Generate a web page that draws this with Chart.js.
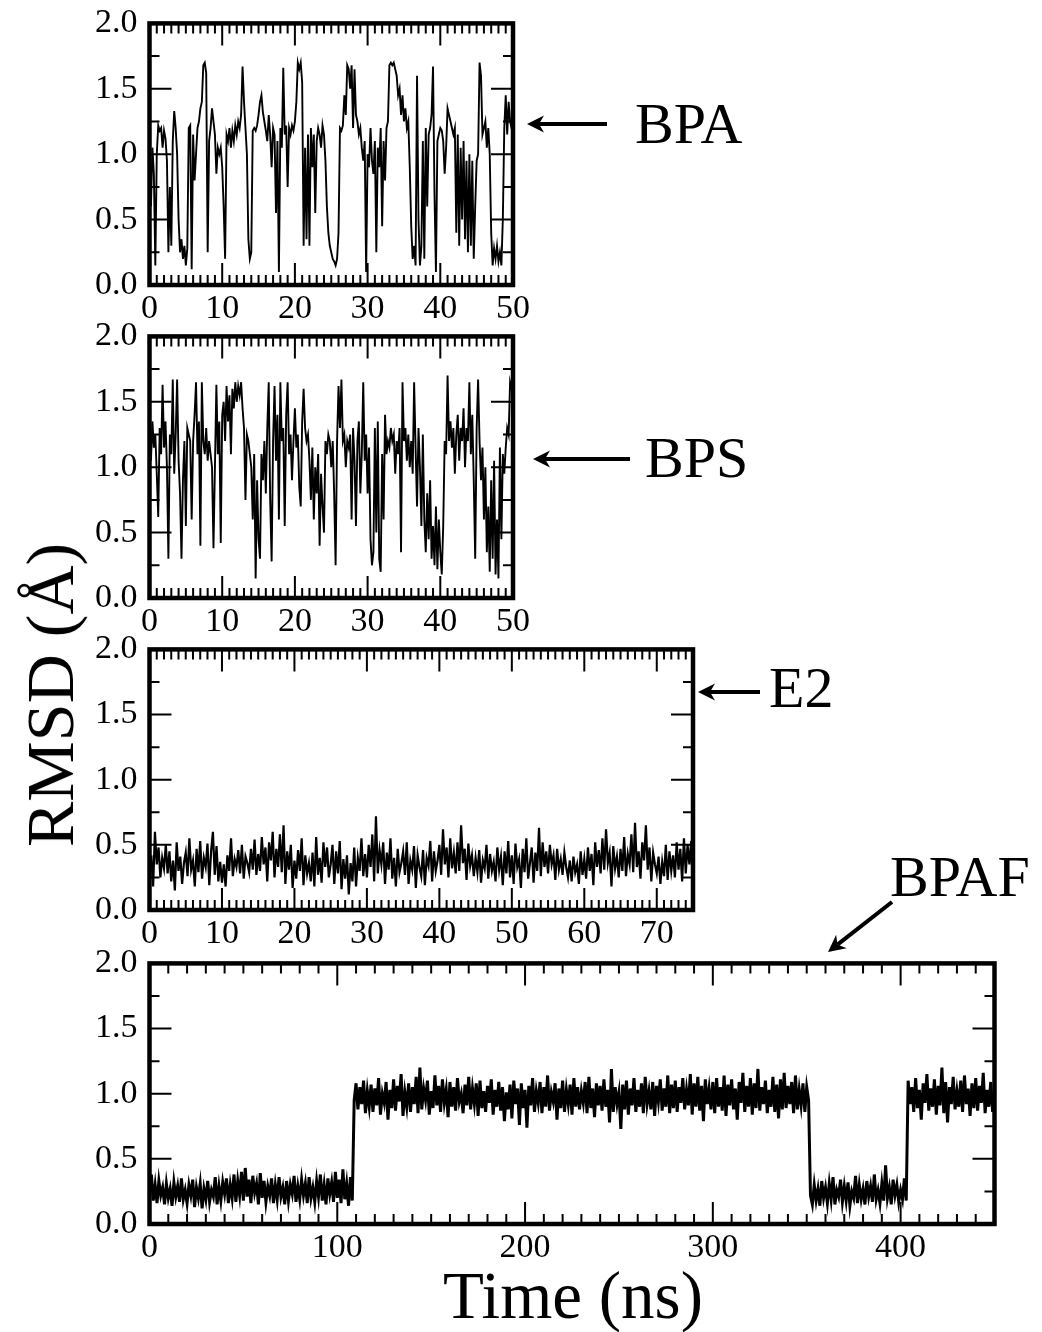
<!DOCTYPE html>
<html>
<head>
<meta charset="utf-8">
<title>RMSD vs time</title>
<script src="https://cdn.jsdelivr.net/npm/chart.js@4.4.0/dist/chart.umd.min.js"></script>
<style>
  html, body { margin: 0; padding: 0; background: #fff; }
  body {
    width: 1042px; height: 1332px; position: relative; overflow: hidden;
    font-family: "Liberation Serif", "DejaVu Serif", serif; color: #000;
  }
  canvas { position: absolute; left: 0; }
  .tag { position: absolute; font-size: 58px; line-height: 1; white-space: nowrap; }
  .axis-title { position: absolute; line-height: 1; white-space: nowrap; transform-origin: 50% 50%; }
  #yTitle { left: 50px; top: 695px; font-size: 68px; transform: translate(-50%, -50%) rotate(-90deg); }
  #xTitle { left: 573px; top: 1295px; font-size: 67px; transform: translate(-50%, -50%); }
  svg { position: absolute; left: 0; top: 0; }
</style>
</head>
<body>

<canvas id="bpaChart"></canvas>
<canvas id="bpsChart"></canvas>
<canvas id="e2Chart"></canvas>
<canvas id="bpafChart"></canvas>

<div class="tag" style="left:635px; top:95px;">BPA</div>
<div class="tag" style="left:645px; top:429px;">BPS</div>
<div class="tag" style="left:769px; top:659px;">E2</div>
<div class="tag" style="left:890px; top:848px;">BPAF</div>

<div class="axis-title" id="yTitle">RMSD (Å)</div>
<div class="axis-title" id="xTitle">Time (ns)</div>

<svg width="1042" height="1332" id="arrows"></svg>

<script>
// ============================================================================
// DATA (RMSD in Angstrom, sampled every *Step ns)
// ============================================================================

const bpaStep = 0.2;
const bpaRmsd = [
    1.00, 0.60, 1.05, 0.85, 0.15,  1.00, 1.22, 1.18, 1.20, 1.05,
    1.18, 1.12, 0.95, 0.25, 0.75,  0.30, 1.10, 1.33, 1.20, 1.00,
    0.50, 0.25, 0.35, 0.20, 0.30,  0.15, 0.28, 1.20, 1.22, 0.12,
    1.15, 0.80, 1.00, 1.20, 1.25,  1.35, 1.40, 1.68, 1.70, 1.62,
    0.25, 1.10, 1.20, 1.35, 1.25,  1.15, 0.85, 1.05, 1.00, 1.05,
    0.90, 0.60, 0.20, 1.15, 1.10,  1.20, 1.05, 1.18, 1.10, 1.22,
    1.15, 1.25, 1.20, 1.30, 1.67,  1.40, 1.20, 1.00, 0.35, 0.20,
    0.25, 1.18, 1.20, 1.18, 1.22,  1.30, 1.40, 1.45, 1.32, 1.25,
    1.18, 1.10, 1.30, 1.15, 0.90,  1.20, 1.15, 0.55, 1.10, 0.10,
    1.20, 1.05, 1.66, 1.15, 1.22,  0.75, 1.20, 1.15, 1.22, 1.18,
    1.25, 1.40, 1.70, 1.65, 1.70,  1.55, 0.30, 1.05, 0.35, 1.15,
    0.30, 1.20, 0.90, 1.15, 0.55,  1.10, 1.20, 1.15, 1.05, 1.22,
    1.15, 0.95, 0.60, 0.40, 0.30,  0.25, 0.20, 0.18, 0.15, 0.20,
    0.40, 1.20, 1.18, 1.22, 1.45,  1.30, 1.68, 1.65, 1.50, 1.68,
    1.20, 1.65, 1.30, 1.25, 1.15,  1.20, 1.05, 0.95, 1.10, 0.10,
    1.00, 0.90, 1.20, 0.95, 0.85,  1.10, 0.25, 1.05, 0.90, 1.20,
    0.45, 1.10, 0.80, 1.20, 1.25,  1.68, 1.70, 1.68, 1.70, 1.65,
    1.60, 1.45, 1.50, 1.30, 1.45,  1.25, 1.35, 1.20, 1.25, 0.90,
    0.45, 0.20, 0.30, 0.15, 1.60,  0.50, 0.15, 0.30, 1.10, 0.20,
    1.20, 0.60, 1.15, 1.20, 1.30,  1.67, 0.70, 0.10, 1.10, 1.15,
    1.20, 1.18, 1.10, 0.85, 1.05,  1.35, 1.30, 1.25, 1.20, 1.15,
    1.20, 0.40, 1.15, 0.30, 1.05,  0.50, 1.10, 0.35, 0.95, 0.25,
    1.00, 0.30, 0.95, 0.20, 0.60,  0.95, 1.00, 1.70, 1.60, 1.15,
    1.20, 1.25, 1.05, 1.20, 1.00,  0.40, 0.15, 0.28, 0.20, 0.30,
    0.18, 0.25, 0.15, 0.50, 1.20,  1.45, 1.15, 1.40, 1.25, 1.20,
    1.45
];

const bpsStep = 0.2;
const bpsRmsd = [
    1.20, 1.05, 1.35, 1.15, 1.25,  0.95, 0.62, 1.30, 1.10, 1.63,
    1.15, 1.35, 1.00, 0.30, 1.25,  1.10, 1.67, 0.95, 1.25, 1.67,
    1.05, 0.80, 0.30, 0.90, 1.20,  0.55, 1.30, 1.25, 1.20, 0.60,
    1.20, 1.40, 1.65, 1.10, 1.35,  0.40, 1.65, 1.20, 1.10, 1.30,
    1.05, 1.20, 1.10, 1.00, 0.38,  1.00, 1.63, 1.10, 1.35, 0.42,
    1.40, 1.50, 1.20, 1.62, 1.35,  1.55, 1.10, 1.60, 1.45, 1.65,
    1.50, 1.62, 1.55, 1.65, 1.45,  1.30, 0.75, 1.25, 1.20, 1.10,
    1.00, 0.60, 1.10, 0.15, 0.90,  0.45, 0.30, 1.10, 0.90, 1.20,
    0.80, 1.30, 1.65, 0.75, 0.28,  1.20, 1.62, 1.05, 1.40, 0.60,
    1.65, 1.20, 1.30, 0.55, 1.40,  1.65, 1.10, 1.25, 0.90, 1.20,
    1.45, 1.15, 1.25, 0.85, 0.70,  1.35, 1.60, 1.30, 1.20, 1.25,
    1.05, 0.75, 1.15, 0.60, 1.00,  0.80, 1.10, 0.40, 0.95, 0.70,
    0.50, 1.20, 1.10, 1.25, 1.20,  1.00, 1.20, 0.80, 0.25, 1.20,
    1.62, 1.30, 1.67, 1.20, 1.25,  1.00, 1.20, 1.15, 1.25, 0.60,
    1.30, 1.05, 0.55, 1.20, 1.35,  0.80, 1.10, 1.65, 1.05, 1.25,
    0.80, 1.15, 0.45, 0.25, 0.35,  1.30, 0.50, 1.35, 0.30, 0.20,
    1.10, 0.60, 1.40, 1.10, 1.20,  1.15, 1.30, 1.20, 1.25, 0.95,
    1.20, 1.10, 1.30, 0.35, 1.65,  1.20, 1.30, 1.05, 1.25, 1.00,
    1.20, 0.95, 1.65, 1.15, 0.70,  1.30, 1.00, 0.55, 1.25, 0.60,
    0.35, 0.80, 0.45, 0.90, 0.30,  0.55, 0.25, 0.70, 0.22, 0.60,
    0.35, 0.18, 0.55, 1.20, 1.10,  1.70, 1.20, 1.35, 1.15, 1.30,
    0.95, 1.25, 1.40, 1.05, 1.30,  1.20, 1.45, 1.00, 1.30, 1.20,
    1.65, 1.10, 1.40, 0.90, 0.30,  1.30, 1.67, 1.20, 0.90, 1.15,
    0.60, 1.00, 0.35, 0.70, 0.20,  0.90, 0.30, 1.05, 0.18, 0.60,
    0.15, 1.15, 0.45, 1.10, 0.95,  1.15, 1.30, 1.25, 1.65, 1.60,
    1.55
];

const e2Step = 0.25;
const e2Rmsd = [
    0.30, 0.42, 0.18, 0.60, 0.35, 0.48, 0.25, 0.40, 0.32, 0.50,
    0.28, 0.45, 0.22, 0.38, 0.15, 0.52, 0.30, 0.41, 0.20, 0.36,
    0.44, 0.26, 0.55, 0.31, 0.38, 0.18, 0.47, 0.29, 0.53, 0.24,
    0.40, 0.33, 0.51, 0.19, 0.45, 0.60, 0.27, 0.49, 0.22, 0.37,
    0.21, 0.35, 0.18, 0.42, 0.30, 0.55, 0.26, 0.39, 0.33, 0.46,
    0.28, 0.50, 0.24, 0.41, 0.36, 0.29, 0.47, 0.31, 0.54, 0.27,
    0.43, 0.30, 0.56, 0.35, 0.48, 0.22, 0.52, 0.38, 0.60, 0.25,
    0.47, 0.33, 0.58, 0.29, 0.65, 0.20, 0.45, 0.31, 0.50, 0.17,
    0.38, 0.24, 0.46, 0.30, 0.55, 0.19, 0.42, 0.28, 0.36, 0.22,
    0.44, 0.18, 0.56, 0.27, 0.40, 0.21, 0.52, 0.33, 0.48, 0.25,
    0.35, 0.50, 0.20, 0.45, 0.28, 0.53, 0.16, 0.39, 0.24, 0.42,
    0.12, 0.36, 0.22, 0.48, 0.18, 0.40, 0.30, 0.55, 0.26, 0.43,
    0.25, 0.50, 0.33, 0.58, 0.22, 0.72, 0.28, 0.46, 0.35, 0.52,
    0.20, 0.44, 0.31, 0.55, 0.24, 0.40, 0.18, 0.47, 0.29, 0.36,
    0.45, 0.27, 0.52, 0.20, 0.38, 0.31, 0.49, 0.17, 0.42, 0.33,
    0.26, 0.46, 0.19, 0.40, 0.34, 0.53, 0.22, 0.45, 0.30, 0.38,
    0.50, 0.27, 0.62, 0.35, 0.48, 0.25, 0.55, 0.32, 0.44, 0.28,
    0.52, 0.30, 0.65, 0.36, 0.47, 0.23, 0.51, 0.34, 0.42, 0.26,
    0.40, 0.29, 0.46, 0.21, 0.38, 0.32, 0.50, 0.24, 0.43, 0.30,
    0.37, 0.22, 0.48, 0.31, 0.41, 0.19, 0.45, 0.28, 0.53, 0.25,
    0.42, 0.20, 0.51, 0.33, 0.39, 0.17, 0.47, 0.29, 0.55, 0.24,
    0.36, 0.48, 0.21, 0.44, 0.30, 0.63, 0.26, 0.52, 0.33, 0.45,
    0.28, 0.50, 0.35, 0.42, 0.23, 0.47, 0.31, 0.39, 0.27, 0.44,
    0.33, 0.25, 0.38, 0.22, 0.41, 0.29, 0.35, 0.20, 0.45, 0.27,
    0.39, 0.24, 0.48, 0.30, 0.43, 0.19, 0.52, 0.33, 0.46, 0.28,
    0.55, 0.31, 0.62, 0.36, 0.44, 0.18, 0.49, 0.32, 0.41, 0.25,
    0.47, 0.30, 0.56, 0.26, 0.43, 0.35, 0.58, 0.29, 0.67, 0.33,
    0.45, 0.24, 0.52, 0.38, 0.65, 0.31, 0.48, 0.22, 0.44, 0.35,
    0.28, 0.41, 0.20, 0.37, 0.26, 0.50, 0.23, 0.45, 0.30, 0.42,
    0.25, 0.52, 0.31, 0.47, 0.22, 0.55, 0.28, 0.50, 0.35, 0.53,
    0.10
];

const bpafStep = 1;
const bpafRmsd = [
    0.25, 0.38, 0.18, 0.30, 0.16, 0.33, 0.22, 0.28, 0.15, 0.31,
    0.20, 0.27, 0.14, 0.32, 0.21, 0.29, 0.17, 0.35, 0.19, 0.26,
    0.16, 0.30, 0.22, 0.34, 0.13, 0.28, 0.20, 0.31, 0.12, 0.27,
    0.19, 0.33, 0.17, 0.26, 0.21, 0.36, 0.15, 0.29, 0.18, 0.32,
    0.23, 0.35, 0.16, 0.30, 0.20, 0.38, 0.17, 0.33, 0.22, 0.40,
    0.18, 0.43, 0.21, 0.34, 0.16, 0.37, 0.24, 0.31, 0.15, 0.39,
    0.20, 0.33, 0.17, 0.29, 0.22, 0.35, 0.16, 0.30, 0.19, 0.36,
    0.21, 0.28, 0.15, 0.33, 0.18, 0.30, 0.23, 0.37, 0.17, 0.29,
    0.19, 0.34, 0.22, 0.31, 0.16, 0.36, 0.20, 0.28, 0.17, 0.33,
    0.21, 0.38, 0.18, 0.30, 0.15, 0.35, 0.23, 0.32, 0.17, 0.40,
    0.20, 0.34, 0.16, 0.42, 0.19, 0.31, 0.14, 0.36, 0.18, 0.95,
    1.08, 0.88, 1.05, 0.92, 1.10, 0.85, 1.02, 0.90, 1.07, 0.86,
    1.04, 0.91, 1.12, 0.84, 1.00, 0.93, 1.09, 0.80, 1.03, 0.89,
    1.11, 0.87, 1.06, 0.94, 1.15, 0.83, 1.01, 0.90, 1.08, 0.86,
    1.05, 0.92, 1.13, 0.85, 1.20, 0.88, 1.04, 0.95, 1.10, 0.84,
    1.02, 0.89, 1.14, 0.91, 1.06, 0.86, 1.11, 0.93, 1.03, 0.82,
    1.09, 0.90, 1.05, 0.87, 1.12, 0.94, 1.00, 0.85, 1.07, 0.91,
    1.13, 0.88, 1.04, 0.92, 1.08, 0.83, 1.10, 0.89, 1.02, 0.86,
    1.06, 0.93, 1.11, 0.84, 1.03, 0.90, 1.09, 0.87, 1.05, 0.79,
    1.01, 0.88, 1.07, 0.81, 1.10, 0.92, 1.04, 0.76, 1.08, 0.89,
    1.03, 0.74, 1.06, 0.91, 1.12, 0.86, 1.02, 0.93, 1.09, 0.85,
    1.05, 0.90, 1.14, 0.87, 1.01, 0.94, 1.08, 0.80, 1.04, 0.89,
    1.10, 0.86, 1.03, 0.92, 1.07, 0.84, 1.12, 0.90, 1.05, 0.88,
    1.02, 0.93, 1.09, 0.85, 1.13, 0.89, 1.04, 0.82, 1.08, 0.91,
    1.06, 0.87, 1.11, 0.90, 1.03, 0.78, 1.19, 0.86, 1.05, 0.92,
    1.01, 0.73, 1.07, 0.88, 1.10, 0.84, 1.04, 0.91, 1.12, 0.86,
    1.03, 0.90, 1.08, 0.85, 1.13, 0.92, 1.02, 0.88, 1.09, 0.83,
    1.06, 0.94, 1.11, 0.87, 1.04, 0.90, 1.14, 0.85, 1.07, 0.89,
    1.10, 0.86, 1.05, 0.93, 1.12, 0.88, 1.03, 0.91, 1.15, 0.84,
    1.08, 0.90, 1.13, 0.87, 1.06, 0.79, 1.11, 0.92, 1.04, 0.88,
    1.09, 0.85, 1.12, 0.90, 1.05, 0.87, 1.14, 0.83, 1.07, 0.91,
    1.11, 0.88, 1.04, 0.80, 1.09, 0.93, 1.16, 0.86, 1.06, 0.90,
    1.12, 0.84, 1.08, 0.89, 1.19, 0.87, 1.05, 0.92, 1.10, 0.85,
    1.03, 0.90, 1.13, 0.86, 1.07, 0.81, 1.11, 0.88, 1.16, 0.89,
    1.06, 0.92, 1.09, 0.85, 1.14, 0.88, 1.03, 0.91, 1.08, 0.86,
    1.05, 0.95, 0.22, 0.15, 0.30, 0.18, 0.27, 0.14, 0.33, 0.20,
    0.28, 0.16, 0.31, 0.19, 0.36, 0.15, 0.26, 0.21, 0.34, 0.17,
    0.29, 0.18, 0.32, 0.14, 0.25, 0.20, 0.37, 0.16, 0.30, 0.19,
    0.27, 0.15, 0.33, 0.21, 0.29, 0.17, 0.38, 0.19, 0.26, 0.16,
    0.31, 0.18, 0.45, 0.20, 0.28, 0.15, 0.34, 0.22, 0.30, 0.17,
    0.26, 0.19, 0.35, 0.18, 1.10, 0.92, 1.05, 0.86, 1.12, 0.89,
    1.03, 0.80, 1.08, 0.93, 1.15, 0.87, 1.04, 0.90, 1.11, 0.84,
    1.06, 0.91, 1.20, 0.85, 1.09, 0.78, 1.05, 0.92, 1.13, 0.88,
    1.02, 0.90, 1.10, 0.86, 1.14, 0.92, 1.04, 0.83, 1.08, 0.89,
    1.12, 0.87, 1.06, 0.93, 1.16, 0.85, 1.03, 0.90, 1.09, 0.86,
    1.00
];

const yTickValues = [0, 0.5, 1.0, 1.5, 2.0];

// ============================================================================
// LAYOUT
// ============================================================================

const PLOT_LEFT = 149.5;
const PAD_TOP = 22;
const PAD_RIGHT = 30;
const X_AXIS_H = 50;
const MAJOR_LEN = 22;
const MINOR_LEN = 10;
const FONT_FAMILY = '"Liberation Serif", "DejaVu Serif", serif';
const TICK_FONT = 34;

const panels = [
    { canvas: 'bpaChart',  values: bpaRmsd,  step: bpaStep,  xMax: 50,  xMajor: 10,  xMinor: 1,  top: 23,    bottom: 284.5, right: 513,   lineW: 1.9 },
    { canvas: 'bpsChart',  values: bpsRmsd,  step: bpsStep,  xMax: 50,  xMajor: 10,  xMinor: 1,  top: 336.5, bottom: 598,   right: 513,   lineW: 1.9 },
    { canvas: 'e2Chart',   values: e2Rmsd,   step: e2Step,   xMax: 75,  xMajor: 10,  xMinor: 1,  top: 649.5, bottom: 910,   right: 693,   lineW: 2.2 },
    { canvas: 'bpafChart', values: bpafRmsd, step: bpafStep, xMax: 450, xMajor: 100, xMinor: 10, top: 963,   bottom: 1224,  right: 994.5, lineW: 3 }
];

// frame + inward ticks on all four sides, like the original grace plots
const frameTicks = {
    id: 'frameTicks',
    afterDatasetsDraw(chart, args, opts) {
        const { ctx, chartArea: a, scales: { x, y } } = chart;
        ctx.save();
        ctx.strokeStyle = '#000';
        ctx.lineWidth = 2;
        ctx.lineCap = 'butt';
        ctx.beginPath();
        const xTick = (v, len) => {
            const px = x.getPixelForValue(v);
            ctx.moveTo(px, a.bottom); ctx.lineTo(px, a.bottom - len);
            ctx.moveTo(px, a.top);    ctx.lineTo(px, a.top + len);
        };
        const yTick = (v, len) => {
            const py = y.getPixelForValue(v);
            ctx.moveTo(a.left, py);  ctx.lineTo(a.left + len, py);
            ctx.moveTo(a.right, py); ctx.lineTo(a.right - len, py);
        };
        for (let v = 0; v <= opts.xMax + 1e-9; v += opts.xMinor) xTick(v, MINOR_LEN);
        for (let v = 0; v <= opts.xMax + 1e-9; v += opts.xMajor) xTick(v, MAJOR_LEN);
        for (let v = 0; v <= 2 + 1e-9; v += 0.25) yTick(v, MINOR_LEN);
        yTickValues.forEach(v => yTick(v, MAJOR_LEN));
        ctx.stroke();
        ctx.lineWidth = 4.5;
        ctx.strokeRect(a.left, a.top, a.right - a.left, a.bottom - a.top);
        ctx.restore();
    }
};

function makeChart(el, p, extraTop) {
    const w = Math.round(p.right + PAD_RIGHT);
    const h = Math.round(p.bottom - p.top + PAD_TOP + X_AXIS_H + extraTop);
    el.width = w;
    el.height = h;
    el.style.width = w + 'px';
    el.style.height = h + 'px';
    el.style.top = (p.bottom + X_AXIS_H - h) + 'px';

    const points = p.values.map((v, i) => ({ x: i * p.step, y: v }));

    return new Chart(el, {
        type: 'line',
        data: {
            datasets: [{
                data: points,
                borderColor: '#000',
                borderWidth: p.lineW,
                borderJoinStyle: 'miter',
                pointRadius: 0,
                tension: 0,
                fill: false
            }]
        },
        options: {
            responsive: false,
            animation: false,
            devicePixelRatio: 1,
            events: [],
            layout: { padding: { top: PAD_TOP, right: w - p.right, left: 0, bottom: 0 } },
            plugins: {
                legend: { display: false },
                tooltip: { enabled: false },
                frameTicks: { xMax: p.xMax, xMajor: p.xMajor, xMinor: p.xMinor }
            },
            scales: {
                x: {
                    type: 'linear',
                    min: 0,
                    max: p.xMax,
                    grid: { display: false, drawTicks: false },
                    border: { display: false },
                    afterFit: scale => { scale.height = X_AXIS_H; },
                    ticks: {
                        stepSize: p.xMajor,
                        includeBounds: false,
                        autoSkip: false,
                        maxRotation: 0,
                        padding: 4,
                        color: '#000',
                        font: { family: FONT_FAMILY, size: TICK_FONT }
                    }
                },
                y: {
                    min: 0,
                    max: 2,
                    grid: { display: false, drawTicks: false },
                    border: { display: false },
                    afterFit: scale => { scale.width = PLOT_LEFT; },
                    ticks: {
                        stepSize: 0.5,
                        padding: 12,
                        color: '#000',
                        font: { family: FONT_FAMILY, size: TICK_FONT },
                        callback: v => v.toFixed(1)
                    }
                }
            }
        },
        plugins: [frameTicks]
    });
}

panels.forEach(p => {
    const el = document.getElementById(p.canvas);
    let chart = makeChart(el, p, 0);
    // the layout may reserve more room on top than asked; grow the canvas upward to keep the plot box in place
    const extra = chart.chartArea.top - PAD_TOP;
    if (Math.abs(extra) > 0.01) {
        chart.destroy();
        chart = makeChart(el, p, extra);
    }
});

// ============================================================================
// ANNOTATION ARROWS
// ============================================================================

const arrows = [
    { from: [607, 124], to: [527, 124] },
    { from: [630, 459], to: [533, 459] },
    { from: [760, 692], to: [698, 692] },
    { from: [892, 902], to: [828, 952] }
];

const svg = document.getElementById('arrows');
const NS = 'http://www.w3.org/2000/svg';
arrows.forEach(a => {
    const [x1, y1] = a.from;
    const [x2, y2] = a.to;
    const ang = Math.atan2(y2 - y1, x2 - x1);
    const back = 12;
    const line = document.createElementNS(NS, 'line');
    line.setAttribute('x1', x1);
    line.setAttribute('y1', y1);
    line.setAttribute('x2', x2 - Math.cos(ang) * back);
    line.setAttribute('y2', y2 - Math.sin(ang) * back);
    line.setAttribute('stroke', '#000');
    line.setAttribute('stroke-width', 4);
    svg.appendChild(line);

    const head = document.createElementNS(NS, 'path');
    head.setAttribute('d', 'M0,0 L-17,-8.5 L-12,0 L-17,8.5 Z');
    head.setAttribute('fill', '#000');
    head.setAttribute('transform', `translate(${x2},${y2}) rotate(${ang * 180 / Math.PI})`);
    svg.appendChild(head);
});
</script>
</body>
</html>
